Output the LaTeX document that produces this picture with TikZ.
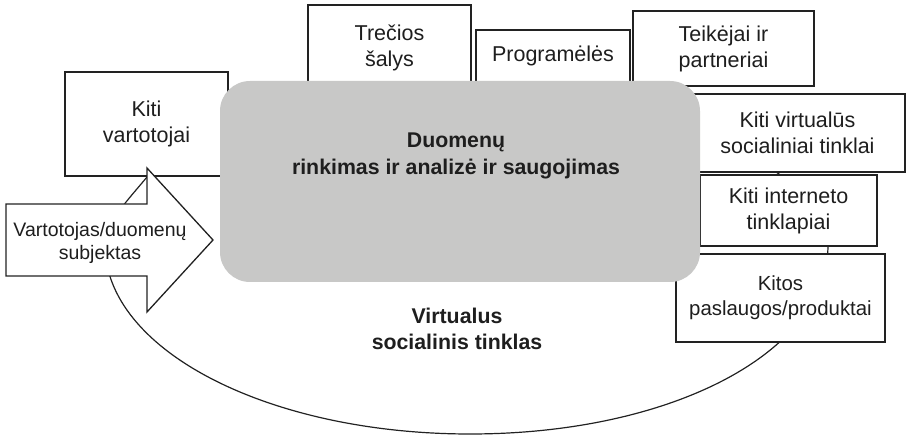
\documentclass[tikz,border=0pt]{standalone}
\usepackage{fontspec}
\setmainfont{Liberation Sans}
\definecolor{linec}{RGB}{34,34,34}
\definecolor{txt}{RGB}{30,30,30}
\definecolor{coregray}{RGB}{200,200,199}
\begin{document}
\begin{tikzpicture}[x=1pt,y=-1pt,
  box/.style={draw=linec, line width=1.3pt, fill=white, align=center, inner sep=0pt,
    text=txt, font=\fontsize{21.5}{26}\selectfont},
  boldlabel/.style={align=center, inner sep=0pt, text=txt,
    font=\fontsize{21.3}{26.5}\selectfont\bfseries},
  ring/.style={draw=linec, line width=1.2pt},
  bigarrow/.style={draw=linec, line width=1.3pt, fill=white}]
\useasboundingbox (0,0) rectangle (906,435);

% the ring of the social network (behind everything)
\draw[ring] (105,245) .. controls (105,350) and (268,434) .. (470,434)
  .. controls (672,434) and (828,352) .. (828,245)
  .. controls (828,210) and (805,190) .. (779,174)
  .. controls (745,152) and (710,125) .. (640,110)
  .. controls (520,90) and (320,95) .. (240,115)
  .. controls (200,130) and (165,155) .. (147,177)
  .. controls (128,200) and (106,222) .. cycle;

% surrounding boxes
\node[box, minimum width=163pt, minimum height=104pt] (kv) at (146.5,124) {Kiti\\vartotojai};
\node[box, minimum width=163pt, minimum height=86pt] (tr) at (389.5,48) {Trečios\\šalys};
\node[box, minimum width=154pt, minimum height=52pt] (pr) at (553,56) {Programėlės};
\node[box, minimum width=181pt, minimum height=75pt] (te) at (723.5,48.5) {Teikėjai ir\\partneriai};
\node[box, minimum width=215pt, minimum height=78pt] (kvs) at (797.5,133) {Kiti virtualūs\\socialiniai tinklai};
\node[box, minimum width=177pt, minimum height=71pt] (ki) at (788.5,210.5) {Kiti interneto\\tinklapiai};
\node[box, minimum width=209pt, minimum height=88pt, font=\fontsize{20.4}{25}\selectfont] (ko) at (780.5,298) {Kitos\\paslaugos/produktai};

% user arrow
\coordinate (atail) at (6,240);
\coordinate (atip) at (213,240);
\draw[bigarrow] (6,204) -- (147,204) -- (147,168) -- (atip) -- (147,312) -- (147,276) -- (6,276) -- cycle;
\node[align=center, inner sep=0pt, text=txt, font=\fontsize{19.5}{23}\selectfont] (user) at (100,243) {Vartotojas/duomenų\\subjektas};

% core block
\node[fill=coregray, rounded corners=30pt, minimum width=480pt, minimum height=201pt, inner sep=0pt] (core) at (460,181.5) {};
\node[boldlabel] (coretext) at (456,156) {Duomenų\\rinkimas ir analizė ir saugojimas};

% ring label
\node[boldlabel] (ringtext) at (457,329) {Virtualus\\socialinis tinklas};
\end{tikzpicture}
\end{document}
